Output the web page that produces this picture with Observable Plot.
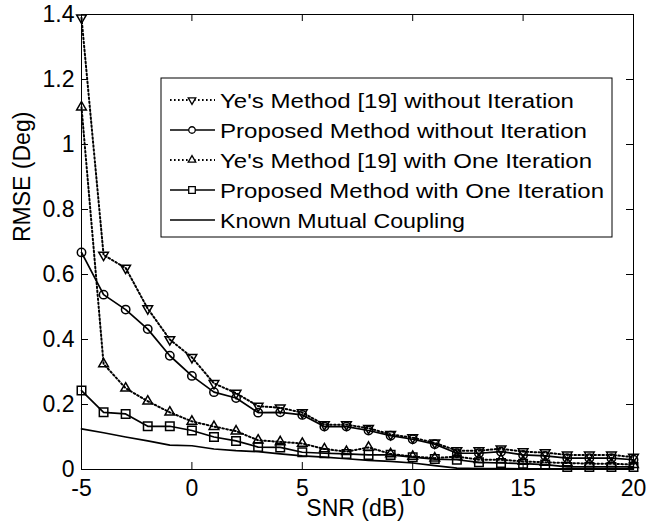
<!DOCTYPE html>
<html><head><meta charset="utf-8">
<script src="https://cdn.jsdelivr.net/npm/d3@7"></script>
<script src="https://cdn.jsdelivr.net/npm/@observablehq/plot@0.6"></script>
<style>body{margin:0;background:#fff}</style>
</head><body><div id="chart"></div>
<script>
const snr = [-5,-4,-3,-2,-1,0,1,2,3,4,5,6,7,8,9,10,11,12,13,14,15,16,17,18,19,20];
const yeNoIter = [1.39,0.66,0.62,0.495,0.40,0.345,0.265,0.235,0.195,0.19,0.175,0.138,0.138,0.127,0.108,0.098,0.082,0.058,0.058,0.064,0.055,0.052,0.045,0.045,0.045,0.038];
const propNoIter = [0.668,0.538,0.492,0.432,0.35,0.288,0.238,0.22,0.175,0.176,0.168,0.132,0.132,0.12,0.104,0.093,0.078,0.05,0.05,0.055,0.045,0.042,0.035,0.035,0.035,0.03];
const yeOneIter = [1.115,0.325,0.25,0.21,0.176,0.148,0.132,0.118,0.09,0.085,0.08,0.063,0.055,0.068,0.048,0.04,0.035,0.04,0.03,0.03,0.025,0.022,0.02,0.018,0.018,0.015];
const propOneIter = [0.243,0.176,0.171,0.133,0.133,0.12,0.1,0.088,0.069,0.068,0.053,0.05,0.048,0.045,0.045,0.038,0.032,0.03,0.022,0.02,0.018,0.015,0.008,0.008,0.008,0.008];
const knownMC = [0.125,0.113,0.10,0.088,0.075,0.073,0.063,0.058,0.055,0.048,0.042,0.038,0.033,0.028,0.025,0.02,0.012,0.004,0.003,0.003,0.002,0.002,0.002,0.002,0.002,0.002];
const seriesNames = [
  "Ye's Method [19] without Iteration",
  "Proposed Method without Iteration",
  "Ye's Method [19] with One Iteration",
  "Proposed Method with One Iteration",
  "Known Mutual Coupling"
];
const xTicks = [-5,0,5,10,15,20];
const yTicks = [0,0.2,0.4,0.6,0.8,1,1.2,1.4];

const triDown = {draw(context, size){
  const s3 = Math.sqrt(3);
  const y = -Math.sqrt(size/(s3*3));
  context.moveTo(0, -y*2);
  context.lineTo(s3*y, y);
  context.lineTo(-s3*y, y);
  context.closePath();
}};

const series = [
  {name: seriesNames[0], values: yeNoIter, dash: "1.6,2.4", symbol: triDown, r: 3.6},
  {name: seriesNames[1], values: propNoIter, dash: null, symbol: d3.symbolCircle, r: 4.2},
  {name: seriesNames[2], values: yeOneIter, dash: "1.6,2.4", symbol: d3.symbolTriangle, r: 3.6},
  {name: seriesNames[3], values: propOneIter, dash: null, symbol: d3.symbolSquare, r: 4.8},
  {name: seriesNames[4], values: knownMC, dash: null, symbol: null, r: 0}
];
const rowsOf = s => snr.map((x, i) => ({series: s.name, x, y: s.values[i]}));

const W = 658, H = 531;
const mL = 81, mR = 25, mT = 14, mB = 62;
const pw = W - mL - mR, ph = H - mT - mB;
const FONT = "'Liberation Sans', Arial, sans-serif";

const marks = [];
marks.push(Plot.frame({stroke: "black", strokeWidth: 1}));
marks.push(Plot.tickX(xTicks, {x: d => d, insetTop: ph - 7, stroke: "black"}));
marks.push(Plot.tickX(xTicks, {x: d => d, insetBottom: ph - 7, stroke: "black"}));
marks.push(Plot.tickY(yTicks, {y: d => d, insetRight: pw - 7, stroke: "black"}));
marks.push(Plot.tickY(yTicks, {y: d => d, insetLeft: pw - 7, stroke: "black"}));
for (const s of series) {
  const rows = rowsOf(s);
  marks.push(Plot.line(rows, {x: "x", y: "y", stroke: "black", strokeWidth: s.dash ? 2 : 1.7, strokeDasharray: s.dash || undefined}));
  if (s.symbol) marks.push(Plot.dot(rows, {x: "x", y: "y", symbol: s.symbol, r: s.r, stroke: "black", strokeWidth: 1.5, fill: "none"}));
}
marks.push(Plot.axisX(xTicks, {tickSize: 0, tickPadding: 10, fontSize: 23, label: null, tickFormat: d => String(d)}));
marks.push(Plot.axisY(yTicks, {tickSize: 0, tickPadding: 7, fontSize: 23, label: null, tickFormat: d => String(+d.toFixed(1))}));
marks.push(Plot.text(["SNR (dB)"], {frameAnchor: "bottom", dy: 46, dx: -2, fontSize: 23, fill: "black"}));
marks.push(Plot.text(["RMSE (Deg)"], {frameAnchor: "left", dx: -59, rotate: -90, fontSize: 23, fill: "black"}));

const chart = Plot.plot({
  width: W, height: H,
  marginLeft: mL, marginRight: mR, marginTop: mT, marginBottom: mB,
  x: {domain: [-5, 20], label: null},
  y: {domain: [0, 1.4], label: null},
  style: {fontFamily: FONT, fontSize: "23px", color: "black", background: "white"},
  marks
});

// legend box inside the plot
const svg = d3.select(chart);
const lg = svg.append("g").attr("font-family", FONT).attr("font-size", 20).attr("text-anchor", "start");
lg.append("rect").attr("x", 161).attr("y", 78).attr("width", 451).attr("height", 159)
  .attr("fill", "white").attr("stroke", "black").attr("stroke-width", 1);
const textLens = [354, 367, 372, 384, 245];
series.forEach((s, i) => {
  const cy = 100 + i * 30;
  lg.append("line").attr("x1", 170).attr("x2", 215).attr("y1", cy).attr("y2", cy)
    .attr("stroke", "black").attr("stroke-width", s.dash ? 2 : 1.7)
    .attr("stroke-dasharray", s.dash);
  if (s.symbol) {
    lg.append("path").attr("transform", `translate(192,${cy})`)
      .attr("d", d3.symbol(s.symbol, Math.PI * s.r * s.r * 0.6)())
      .attr("fill", "white").attr("stroke", "black").attr("stroke-width", 1.3);
  }
  lg.append("text").attr("x", 220).attr("y", cy + 8).attr("fill", "black")
    .attr("text-anchor", "start")
    .attr("textLength", textLens[i]).attr("lengthAdjust", "spacingAndGlyphs")
    .text(s.name);
});

document.getElementById("chart").appendChild(chart);
</script>
</body></html>
